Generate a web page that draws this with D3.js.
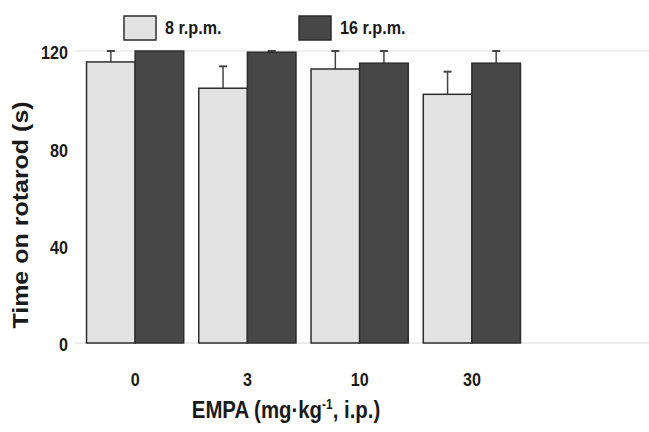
<!DOCTYPE html>
<html lang="en">
  <head>
    <meta charset="utf-8">
    <title>Rotarod</title>
    <script src="https://d3js.org/d3.v7.min.js"></script>
    <style>
      body { margin: 0; background: #fff; }
      text { font-family: "Liberation Sans", Arial, sans-serif; font-weight: bold; fill: #1a1a1a; }
    </style>
  </head>
  <body>
    <div id="chart"></div>
    <script>
      // data
      var doses = ["0", "3", "10", "30"];
      var speeds = ["8 r.p.m.", "16 r.p.m."];
      var mean8 = [115.5, 104.7, 112.6, 102.2];
      var sem8 = [4.5, 9.0, 7.4, 9.3];
      var mean16 = [120, 119.5, 115, 115];
      var sem16 = [0, 0.5, 5, 5];
      var yTicks = [0, 40, 80, 120];

      var W = 649, H = 432;
      var margin = {top: 51, right: 121, bottom: 89, left: 79};
      var innerW = W - margin.left - margin.right;
      var innerH = H - margin.top - margin.bottom;

      var FILLS = ["#e3e3e3", "#474747"];
      var SQ = 0.85; // the original type looks squeezed sideways

      var svg = d3.select("#chart").append("svg")
        .attr("width", W)
        .attr("height", H);

      var g = svg.append("g")
        .attr("transform", `translate(${margin.left},${margin.top})`);

      var x0 = d3.scaleBand().domain(doses).range([0, innerW]).paddingInner(0.134).paddingOuter(0.067);
      var x1 = d3.scaleBand().domain(speeds).range([0, x0.bandwidth()]);
      var y = d3.scaleLinear().domain([0, 120]).range([innerH, 0]);

      // faint gridlines at 0 and 120
      g.selectAll(".grid").data([0, 120]).join("line")
        .attr("x1", -4).attr("x2", W - margin.left)
        .attr("y1", d => y(d)).attr("y2", d => y(d))
        .attr("stroke", "#dcdcdc").attr("stroke-width", 1);

      // y axis labels
      var yAxis = d3.axisLeft(y).tickValues(yTicks).tickSize(0).tickPadding(0);
      var ya = g.append("g").call(yAxis);
      ya.select(".domain").remove();
      ya.selectAll("text")
        .attr("x", -11 / SQ).attr("dy", "0.42em")
        .attr("transform", `scale(${SQ},1)`)
        .attr("font-size", 19).attr("font-weight", "bold").attr("fill", "#1a1a1a")
        .style("font-family", "Liberation Sans, Arial");

      // x axis labels
      var xAxis = d3.axisBottom(x0).tickSize(0).tickPadding(30);
      var xa = g.append("g").attr("transform", `translate(0,${innerH})`).call(xAxis);
      xa.select(".domain").remove();
      xa.selectAll("text")
        .attr("transform", `scale(${SQ},1)`)
        .attr("font-size", 19).attr("font-weight", "bold").attr("fill", "#1a1a1a")
        .style("font-family", "Liberation Sans, Arial");

      var rows = doses.map(function(d, i) {
        return {dose: d, vals: [
          {speed: speeds[0], m: mean8[i], e: sem8[i], k: 0},
          {speed: speeds[1], m: mean16[i], e: sem16[i], k: 1}
        ]};
      });

      var groups = g.selectAll(".grp").data(rows).join("g")
        .attr("transform", d => `translate(${x0(d.dose)},0)`);

      // error bars (upper only)
      groups.selectAll(".err").data(d => d.vals).join("g").each(function(d) {
        var cx = x1(d.speed) + x1.bandwidth() / 2;
        var s = d3.select(this);
        if (d.e <= 0) return;
        s.append("line").attr("x1", cx).attr("x2", cx)
          .attr("y1", y(d.m)).attr("y2", y(d.m + d.e))
          .attr("stroke", "#444").attr("stroke-width", 1.5);
        s.append("line").attr("x1", cx - 4).attr("x2", cx + 4)
          .attr("y1", y(d.m + d.e)).attr("y2", y(d.m + d.e))
          .attr("stroke", "#444").attr("stroke-width", 2);
      });

      groups.selectAll("rect").data(d => d.vals).join("rect")
        .attr("x", d => x1(d.speed))
        .attr("width", x1.bandwidth())
        .attr("y", d => y(d.m))
        .attr("height", d => innerH - y(d.m))
        .attr("fill", d => FILLS[d.k])
        .attr("stroke", "#2e2e2e")
        .attr("stroke-width", 1.5);

      // legend
      var legX = [124, 299];
      var leg = svg.selectAll(".leg").data(speeds).join("g")
        .attr("transform", (d, i) => `translate(${legX[i]},16)`);
      leg.append("rect").attr("width", 32).attr("height", 24)
        .attr("fill", (d, i) => FILLS[i]).attr("stroke", "#2e2e2e").attr("stroke-width", 1.5);
      leg.append("g").attr("transform", "translate(41,18)")
        .append("text").attr("transform", `scale(${SQ},1)`)
        .attr("font-size", 19).text(d => d);

      // axis titles
      svg.append("text")
        .attr("transform", `translate(28,${margin.top + innerH / 2 + 18}) rotate(-90) scale(1,${SQ})`)
        .attr("text-anchor", "middle").attr("font-size", 25)
        .text("Time on rotarod (s)");

      var xt = svg.append("g").attr("transform", "translate(286,418)")
        .append("text")
        .attr("transform", `scale(${SQ},1)`)
        .attr("text-anchor", "middle").attr("font-size", 24);
      xt.append("tspan").text("EMPA (mg·kg");
      xt.append("tspan").attr("font-size", 14).attr("dy", -9).text("-1");
      xt.append("tspan").attr("dy", 9).text(", i.p.)");
    </script>
  </body>
</html>
